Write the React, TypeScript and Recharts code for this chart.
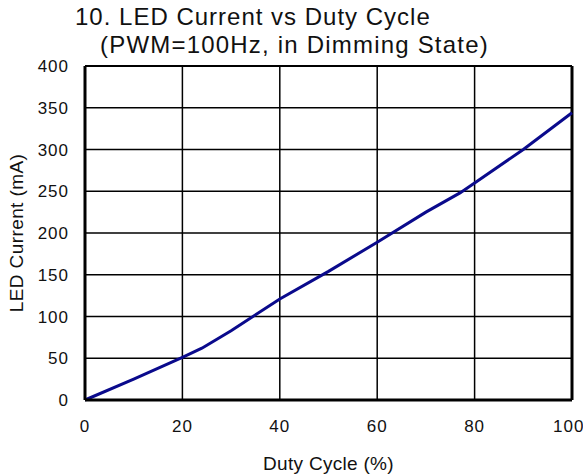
import { LineChart, Line, XAxis, YAxis, CartesianGrid, ReferenceLine } from "recharts";

// duty cycle (%) -> LED current (mA)
const dutyCycle = [0, 10, 20, 24, 30, 40, 50, 60, 70, 77, 80, 90, 100];
const ledCurrent = [0, 25, 51, 62, 83, 121, 154, 189, 225, 248, 260, 300, 344];

const xTicks = [0, 20, 40, 60, 80, 100];
const yTicks = [0, 50, 100, 150, 200, 250, 300, 350, 400];

const data = dutyCycle.map((d, i) => ({ duty: d, current: ledCurrent[i] }));

const font = "'Liberation Sans', Arial, sans-serif";
const tickStyle = { fill: "#111", fontSize: 17, fontFamily: font, letterSpacing: 1 };

export default function App() {
  return (
    <div style={{ position: "absolute", left: 0, top: 0, width: 583, height: 476, background: "#fff", fontFamily: font }}>
      <div style={{ position: "absolute", left: 75, top: 3, fontSize: 24, letterSpacing: 1, color: "#111", whiteSpace: "nowrap" }}>
        10. LED Current vs Duty Cycle
      </div>
      <div style={{ position: "absolute", left: 100, top: 31, fontSize: 24, letterSpacing: 1.2, color: "#111", whiteSpace: "nowrap" }}>
        (PWM=100Hz, in Dimming State)
      </div>
      <LineChart width={583} height={476} data={data} margin={{ top: 66, right: 11, bottom: 0, left: 0 }}>
        <CartesianGrid stroke="#000" strokeWidth={1.5} />
        <XAxis
          dataKey="duty"
          type="number"
          domain={[0, 100]}
          ticks={xTicks}
          height={76}
          tickSize={0}
          tickMargin={20}
          axisLine={{ stroke: "#000", strokeWidth: 3 }}
          tick={tickStyle}
          label={{ value: "Duty Cycle (%)", position: "insideBottom", offset: 6, fill: "#111", fontSize: 19, fontFamily: font, letterSpacing: 0.3 }}
        />
        <YAxis
          type="number"
          domain={[0, 400]}
          ticks={yTicks}
          width={85}
          tickSize={0}
          tickMargin={16}
          axisLine={{ stroke: "#000", strokeWidth: 3 }}
          tick={tickStyle}
          label={{
            value: "LED Current (mA)",
            angle: -90,
            position: "insideLeft",
            offset: 16,
            fill: "#111",
            fontSize: 19,
            fontFamily: font,
            letterSpacing: 0.4,
            style: { textAnchor: "middle" },
          }}
        />
        <ReferenceLine x={100} stroke="#000" strokeWidth={3} />
        <ReferenceLine y={400} stroke="#000" strokeWidth={2} />
        <Line
          type="linear"
          dataKey="current"
          stroke="#0a0a8c"
          strokeWidth={3}
          dot={false}
          isAnimationActive={false}
        />
      </LineChart>
    </div>
  );
}
